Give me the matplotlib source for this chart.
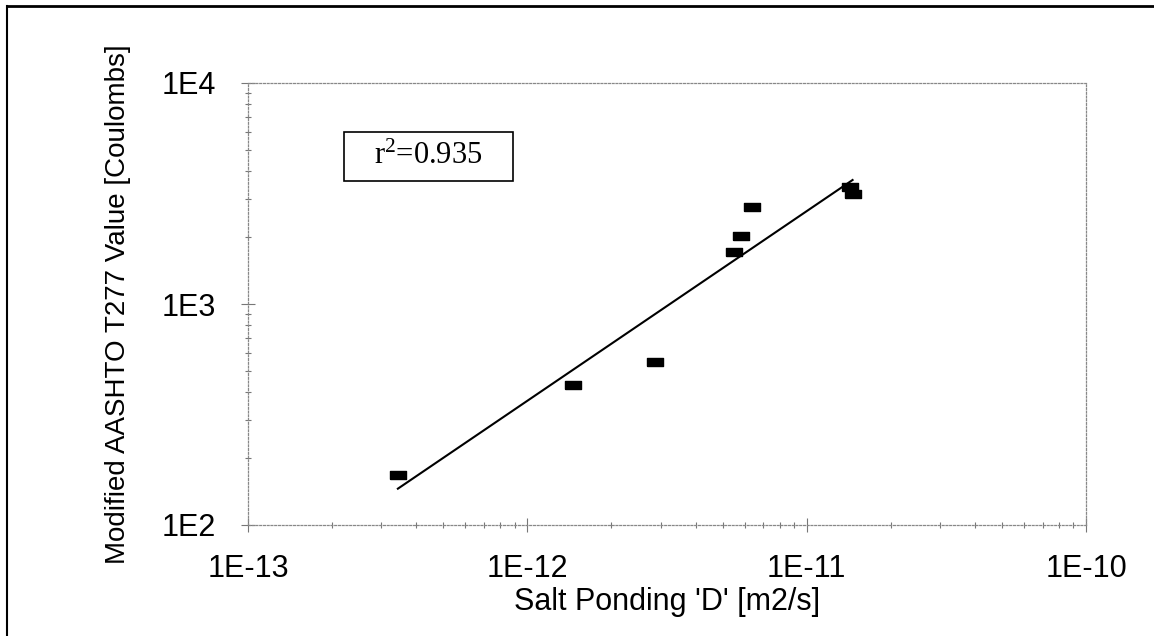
import numpy as np
import matplotlib
matplotlib.use('Agg')
import matplotlib.pyplot as plt
from matplotlib.lines import Line2D
from matplotlib.patches import Rectangle
from matplotlib.ticker import LogLocator, FixedLocator, NullFormatter

plt.rcParams['font.family'] = ['Liberation Sans', 'DejaVu Sans']
plt.rcParams['mathtext.fontset'] = 'custom'
plt.rcParams['mathtext.rm'] = 'Liberation Serif'
plt.rcParams['mathtext.it'] = 'Liberation Serif'

# salt ponding diffusion coefficient vs modified T277 charge
D_pond = [3.44e-13, 1.46e-12, 2.86e-12, 5.50e-12, 5.81e-12, 6.35e-12, 1.43e-11, 1.46e-11]
coulombs = [168, 430, 547, 1718, 2037, 2741, 3381, 3146]

# power-law fit end points
D_fit = [3.44e-13, 1.46e-11]
c_fit = [146, 3640]

r2_text = r'$\mathrm{r}^{2}$=0.935'
xticks = [1e-13, 1e-12, 1e-11, 1e-10]
xtick_labels = ['1E-13', '1E-12', '1E-11', '1E-10']
yticks = [1e2, 1e3, 1e4]
ytick_labels = ['1E2', '1E3', '1E4']

fig = plt.figure(figsize=(11.54, 6.36), dpi=100)
ax = fig.add_axes([248/1154, 1-525/636, (1086-248)/1154, (525-83)/636])

# wide flat bar marker
bar = [(-1, -0.55), (1, -0.55), (1, 0.55), (-1, 0.55), (-1, -0.55)]
ax.plot(D_pond, coulombs, linestyle='none', marker=bar, ms=11.5, color='black', zorder=3)
ax.plot(D_fit, c_fit, color='black', lw=1.5, zorder=2)

ax.set_xscale('log')
ax.set_yscale('log')
ax.set_xlim(1e-13, 1e-10)
ax.set_ylim(1e2, 1e4)

ax.xaxis.set_major_locator(FixedLocator(xticks))
ax.set_xticklabels(xtick_labels)
ax.yaxis.set_major_locator(FixedLocator(yticks))
ax.set_yticklabels(ytick_labels)
ax.xaxis.set_minor_locator(LogLocator(base=10, subs=np.arange(2, 10)))
ax.yaxis.set_minor_locator(LogLocator(base=10, subs=np.arange(2, 10)))
ax.xaxis.set_minor_formatter(NullFormatter())
ax.yaxis.set_minor_formatter(NullFormatter())

ax.tick_params(which='both', direction='inout', color='#777777', width=0.8,
               labelsize=22, top=False, right=False)
ax.tick_params(which='major', length=10)
ax.tick_params(which='minor', length=5)
ax.tick_params(axis='x', which='major', pad=16)
ax.tick_params(axis='y', which='major', pad=18)

for sp in ax.spines.values():
    sp.set_linestyle((0, (1.5, 1.5)))
    sp.set_color('#888888')
    sp.set_linewidth(0.9)

ax.set_xlabel("Salt Ponding 'D' [m2/s]", fontsize=22, labelpad=2)
ax.set_ylabel('Modified AASHTO T277 Value [Coulombs]', fontsize=20, labelpad=22)

# r-squared box
ax.add_patch(Rectangle((0.1146, 0.778), 0.2017, 0.111, transform=ax.transAxes,
                       fill=False, edgecolor='black', lw=1.2, zorder=4))
ax.text(0.2148, 0.8335, r2_text, transform=ax.transAxes, ha='center', va='center',
        fontsize=22, family=['Liberation Serif', 'DejaVu Serif'])

# page frame
fig.add_artist(Line2D([7/1154, 1], [1-6/636, 1-6/636], transform=fig.transFigure,
                      color='black', lw=2))
fig.add_artist(Line2D([7/1154, 7/1154], [0, 1-6/636], transform=fig.transFigure,
                      color='black', lw=1.5))

plt.savefig('out.png', dpi=100)
